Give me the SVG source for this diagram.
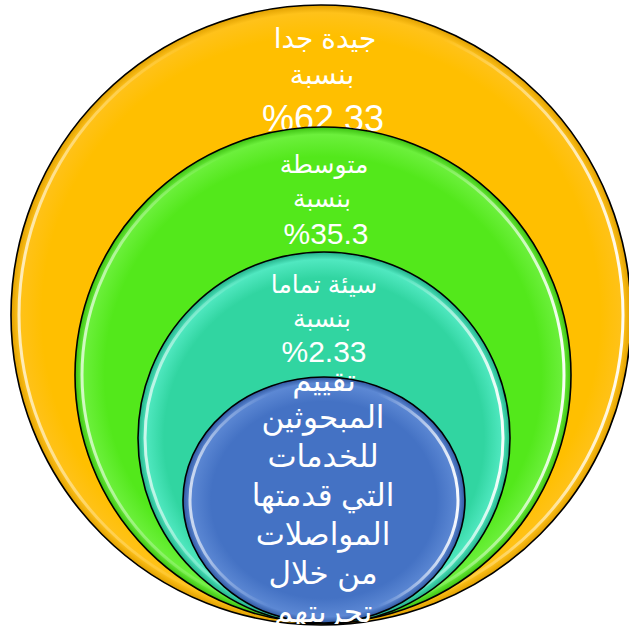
<svg xmlns="http://www.w3.org/2000/svg" width="629" height="631" viewBox="0 0 629 631">
  <defs>
    <radialGradient id="gOrange" cx="0.5" cy="0.5" r="0.5">
      <stop offset="0.9" stop-color="#FFBF00"/>
      <stop offset="0.975" stop-color="#FFC21A"/>
      <stop offset="1" stop-color="#E0A000"/>
    </radialGradient>
    <radialGradient id="gGreen" cx="0.5" cy="0.5" r="0.5">
      <stop offset="0.88" stop-color="#53E81B"/>
      <stop offset="0.97" stop-color="#6CF03C"/>
      <stop offset="1" stop-color="#3CC010"/>
    </radialGradient>
    <radialGradient id="gTeal" cx="0.5" cy="0.5" r="0.5">
      <stop offset="0.86" stop-color="#31D5A1"/>
      <stop offset="0.96" stop-color="#50E8C0"/>
      <stop offset="1" stop-color="#22B088"/>
    </radialGradient>
    <radialGradient id="gBlue" cx="0.5" cy="0.5" r="0.5">
      <stop offset="0.8" stop-color="#4472C4"/>
      <stop offset="0.95" stop-color="#5C88D4"/>
      <stop offset="1" stop-color="#2F57A0"/>
    </radialGradient>
    <linearGradient id="hl" x1="0" y1="0" x2="1" y2="0">
      <stop offset="0" stop-color="#ffffff" stop-opacity="0.7"/>
      <stop offset="0.12" stop-color="#ffffff" stop-opacity="0.3"/>
      <stop offset="0.3" stop-color="#ffffff" stop-opacity="0"/>
      <stop offset="0.7" stop-color="#ffffff" stop-opacity="0"/>
      <stop offset="0.88" stop-color="#ffffff" stop-opacity="0.55"/>
      <stop offset="1" stop-color="#ffffff" stop-opacity="0.95"/>
    </linearGradient>
    <clipPath id="clipBottom">
      <rect x="0" y="0" width="629" height="624"/>
    </clipPath>
  </defs>
  <style>
    .ring { stroke: #000; stroke-width: 1.6; }
    .shine { fill: none; stroke: url(#hl); stroke-width: 3; }
    .lbl { fill: #ffffff; font-family: "Liberation Sans", "DejaVu Sans", Arial, sans-serif; text-anchor: middle; }
  </style>

  <g id="node-orange">
    <circle class="ring" cx="321" cy="315" r="310" fill="url(#gOrange)"/>
    <circle class="shine" cx="321" cy="315" r="302"/>
    <text class="lbl" x="325" y="48" font-size="28">جيدة جدا</text>
    <text class="lbl" x="322" y="84" font-size="28">بنسبة</text>
    <text class="lbl" x="323" y="131" font-size="36">%62.33</text>
  </g>

  <g id="node-green">
    <circle class="ring" cx="323" cy="375" r="248" fill="url(#gGreen)"/>
    <circle class="shine" cx="323" cy="375" r="241"/>
    <text class="lbl" x="324" y="173" font-size="25">متوسطة</text>
    <text class="lbl" x="322" y="207" font-size="25">بنسبة</text>
    <text class="lbl" x="326" y="244" font-size="30">%35.3</text>
  </g>

  <g id="node-teal">
    <circle class="ring" cx="324" cy="438" r="186" fill="url(#gTeal)"/>
    <circle class="shine" cx="324" cy="438" r="179"/>
    <text class="lbl" x="324" y="293" font-size="25">سيئة تماما</text>
    <text class="lbl" x="322" y="327" font-size="25">بنسبة</text>
    <text class="lbl" x="324" y="362" font-size="30">%2.33</text>
  </g>

  <g id="node-blue">
    <ellipse class="ring" cx="324" cy="500" rx="141" ry="123" fill="url(#gBlue)"/>
    <ellipse class="shine" cx="324" cy="500" rx="134" ry="116"/>
    <g clip-path="url(#clipBottom)">
      <text class="lbl" x="324" y="391" font-size="31">تقييم</text>
      <text class="lbl" x="323" y="428" font-size="31">المبحوثين</text>
      <text class="lbl" x="323" y="467" font-size="31">للخدمات</text>
      <text class="lbl" x="323" y="506" font-size="31">التي قدمتها</text>
      <text class="lbl" x="323" y="545" font-size="31">المواصلات</text>
      <text class="lbl" x="323" y="584" font-size="31">من خلال</text>
      <text class="lbl" x="323" y="622" font-size="31">تجربتهم</text>
    </g>
  </g>
</svg>
